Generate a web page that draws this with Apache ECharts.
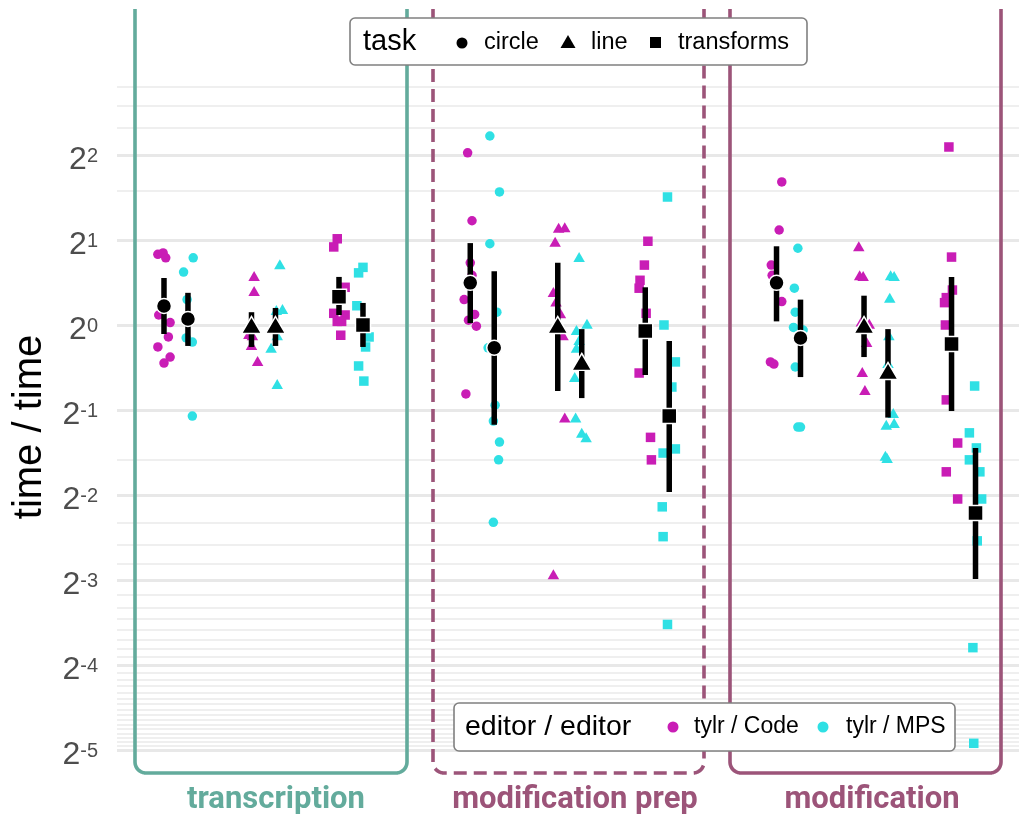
<!DOCTYPE html>
<html>
<head>
<meta charset="utf-8">
<script src="https://cdn.jsdelivr.net/npm/echarts@6/dist/echarts.min.js"></script>
<style>
  html, body { margin: 0; padding: 0; background: #ffffff; }
  #chart { width: 1019px; height: 816px; }
</style>
</head>
<body>
<div id="chart"></div>
<script>
// ---- categories ----
const phases = ['transcription', 'modification prep', 'modification'];
const tasks = ['circle', 'line', 'transforms'];
const editors = ['tylr / Code', 'tylr / MPS'];

// ---- per-participant time ratios (y) and horizontal jitter (x, task units) ----
// transcription
const trCircleCode = [1.78, 1.80, 1.73, 1.085, 1.02, 0.907, 0.836, 0.77, 0.733];
const trCircleCodeJit = [-0.07, -0.01, 0.02, -0.06, 0.07, 0.05, -0.07, 0.07, 0];
const trCircleMps = [1.73, 1.54, 1.23, 0.87, 0.90, 0.476];
const trCircleMpsJit = [0.06, -0.05, -0.01, 0.05, -0.02, 0.05];
const trLineCode = [1.49, 1.32, 0.92, 0.93, 0.85, 0.745];
const trLineCodeJit = [0.03, 0.03, 0.01, -0.03, 0, 0.07];
const trLineMps = [1.64, 1.14, 1.13, 0.92, 0.83, 0.618];
const trLineMpsJit = [0.05, 0.08, 0.01, 0.02, -0.05, 0.02];
const trTransformsCode = [2.02, 1.89, 1.36, 1.10, 1.085, 1.03, 1.03, 0.92];
const trTransformsCodeJit = [-0.02, -0.06, 0.07, -0.06, 0.07, -0.02, 0.03, 0.02];
const trTransformsMps = [1.60, 1.53, 1.17, 0.907, 0.836, 0.716, 0.633];
const trTransformsMpsJit = [0, -0.05, -0.07, 0.07, 0.03, -0.05, 0.01];

// modification prep
const mpCircleCode = [4.07, 2.34, 1.66, 1.50, 1.23, 1.09, 1.04, 0.99, 0.57];
const mpCircleCodeJit = [-0.03, 0.02, 0, 0.02, -0.07, 0.05, -0.02, 0.07, -0.05];
const mpCircleMps = [4.67, 2.96, 1.94, 1.11, 0.83, 0.52, 0.457, 0.385, 0.333, 0.2];
const mpCircleMpsJit = [-0.05, 0.06, -0.05, 0.03, -0.07, 0.01, -0.01, 0.06, 0.05, -0.01];
const mpLineCode = [2.21, 2.22, 1.97, 1.31, 1.21, 1.10, 0.92, 0.47, 0.131];
const mpLineCodeJit = [0.01, 0.08, -0.03, -0.05, -0.02, 0.03, 0.06, 0.08, -0.05];
const mpLineMps = [1.74, 1.01, 0.96, 0.885, 0.83, 0.654, 0.47, 0.415, 0.40];
const mpLineMpsJit = [-0.03, 0.06, -0.06, -0.03, -0.06, -0.08, -0.07, 0, 0.05];
const mpTransformsCode = [1.98, 1.63, 1.44, 1.35, 1.10, 0.676, 0.40, 0.333];
const mpTransformsCodeJit = [0.03, -0.01, -0.06, -0.07, 0.01, -0.07, 0.06, 0.07];
const mpTransformsMps = [2.84, 1.0, 0.74, 0.603, 0.352, 0.364, 0.227, 0.178, 0.087];
const mpTransformsMpsJit = [-0.02, -0.06, 0.07, 0.03, -0.07, 0.07, -0.08, -0.07, -0.02];

// modification
const mdCircleCode = [3.21, 2.17, 1.63, 1.50, 1.21, 0.74, 0.727];
const mdCircleCodeJit = [0.06, 0.03, -0.06, -0.05, 0.06, -0.07, -0.03];
const mdCircleMps = [1.87, 1.35, 1.11, 0.98, 0.96, 0.71, 0.435, 0.435];
const mdCircleMpsJit = [-0.03, -0.07, -0.06, -0.08, 0.03, -0.06, -0.03, 0];
const mdLineCode = [1.90, 1.50, 1.49, 1.03, 1.01, 0.87, 0.681, 0.589];
const mdLineCodeJit = [-0.06, -0.05, -0.01, -0.03, 0.06, 0.03, -0.02, 0.01];
const mdLineMps = [1.50, 1.49, 1.25, 0.92, 0.733, 0.488, 0.443, 0.45, 0.344, 0.338];
const mdLineMpsJit = [0.03, 0.07, 0.02, 0.01, 0, 0.06, -0.02, 0.07, -0.03, -0.01];
const mdTransformsCode = [4.27, 1.74, 1.33, 1.25, 1.20, 1.0, 0.543, 0.382, 0.302, 0.242];
const mdTransformsCodeJit = [-0.03, 0, 0.01, -0.06, -0.08, -0.07, -0.06, 0.07, -0.06, 0.07];
const mdTransformsMps = [0.608, 0.415, 0.367, 0.333, 0.302, 0.242, 0.172, 0.072, 0.033];
const mdTransformsMpsJit = [-0.01, -0.07, 0.01, -0.07, 0.05, 0.07, 0.02, -0.03, -0.02];

// ---- summary: mean and interval, order = circle/Code, circle/MPS, line/Code, line/MPS, transforms/Code, transforms/MPS ----
const meanTranscription = [1.168, 1.05, 1.0, 1.0, 1.26, 1.0];
const lowTranscription  = [0.929, 0.843, 0.836, 0.843, 1.085, 0.836];
const highTranscription = [1.467, 1.30, 1.11, 1.149, 1.48, 1.197];
const meanModPrep = [1.41, 0.83, 1.0, 0.74, 0.952, 0.476];
const lowModPrep  = [1.016, 0.443, 0.584, 0.551, 0.665, 0.256];
const highModPrep = [1.95, 1.55, 1.66, 0.967, 1.36, 0.878];
const meanMod = [1.41, 0.90, 1.0, 0.687, 0.856, 0.216];
const lowMod  = [1.03, 0.654, 0.77, 0.47, 0.496, 0.126];
const highMod = [1.90, 1.23, 1.27, 0.967, 1.48, 0.367];

// ---- y gridlines: powers of two (major), n and 1/n (minor) ----
const gridMajor = [1/32, 1/16, 1/8, 1/4, 1/2, 1, 2, 4];
const gridMinorWhole = [3, 5, 6, 7];
const gridMinorDenominators = [3, 5, 6, 7, 9, 10, 11, 12, 13, 14, 15, 17, 18, 19, 20,
  21, 22, 23, 24, 25, 26, 27, 28, 29, 30, 31];

// ---- style ----
const editorColors = ['#c91db5', '#2fe0e4'];
const taskSymbols = ['circle', 'triangle', 'rect'];
const pointSizes = [9.5, [11.5, 10], 9.5];
const meanSizes = [15, [20, 17], 15];
const teal = '#63ab9c';
const plum = '#9c5479';
const FONT = '"Liberation Sans", Arial, sans-serif';

// layout of the x scale: task slots within a phase, phases side by side
const PHASE_STEP = 3.5;
const DODGE = 0.137;
function slotX(phase, task, editor) {
  return phase * PHASE_STEP + task + (editor === 0 ? -DODGE : DODGE);
}

const points = [
  [[trCircleCode, trCircleCodeJit], [trCircleMps, trCircleMpsJit],
   [trLineCode, trLineCodeJit], [trLineMps, trLineMpsJit],
   [trTransformsCode, trTransformsCodeJit], [trTransformsMps, trTransformsMpsJit]],
  [[mpCircleCode, mpCircleCodeJit], [mpCircleMps, mpCircleMpsJit],
   [mpLineCode, mpLineCodeJit], [mpLineMps, mpLineMpsJit],
   [mpTransformsCode, mpTransformsCodeJit], [mpTransformsMps, mpTransformsMpsJit]],
  [[mdCircleCode, mdCircleCodeJit], [mdCircleMps, mdCircleMpsJit],
   [mdLineCode, mdLineCodeJit], [mdLineMps, mdLineMpsJit],
   [mdTransformsCode, mdTransformsCodeJit], [mdTransformsMps, mdTransformsMpsJit]]
];
const summary = [
  [meanTranscription, lowTranscription, highTranscription],
  [meanModPrep, lowModPrep, highModPrep],
  [meanMod, lowMod, highMod]
];

const series = [];

// gridlines drawn on the value scale (full precision so small reciprocals stay put)
const gridLines = [];
gridMajor.forEach(v => gridLines.push({ yAxis: v, lineStyle: { color: '#e8e8e8', width: 3, type: 'solid' } }));
gridMinorWhole.forEach(v => gridLines.push({ yAxis: v, lineStyle: { color: '#eaeaea', width: 1.6, type: 'solid' } }));
gridMinorDenominators.forEach(n => gridLines.push({ yAxis: 1 / n, lineStyle: { color: '#eaeaea', width: 1.6, type: 'solid' } }));
series.push({
  type: 'line', data: [], z: 1, silent: true,
  markLine: { silent: true, z: 1, precision: 12, symbol: ['none', 'none'], label: { show: false },
    animation: false, data: gridLines }
});

// individual observations
for (let t = 0; t < 3; t++) {
  for (let e = 0; e < 2; e++) {
    const data = [];
    for (let p = 0; p < 3; p++) {
      const [vals, jit] = points[p][t * 2 + e];
      vals.forEach((v, i) => data.push([slotX(p, t, e) + jit[i], v]));
    }
    series.push({
      type: 'scatter', name: tasks[t] + ' ' + editors[e], data,
      symbol: taskSymbols[t], symbolSize: pointSizes[t], z: 3,
      itemStyle: { color: editorColors[e], opacity: 1 }
    });
  }
}

// intervals
const intervals = [];
for (let p = 0; p < 3; p++) {
  for (let k = 0; k < 6; k++) {
    const t = Math.floor(k / 2), e = k % 2;
    intervals.push([slotX(p, t, e), summary[p][1][k], summary[p][2][k]]);
  }
}
series.push({
  type: 'custom', data: intervals, z: 4,
  encode: { x: 0, y: [1, 2] },
  renderItem(params, api) {
    const a = api.coord([api.value(0), api.value(1)]);
    const b = api.coord([api.value(0), api.value(2)]);
    return { type: 'line', shape: { x1: a[0], y1: a[1], x2: b[0], y2: b[1] },
      style: { stroke: '#000000', lineWidth: 5.5 } };
  }
});

// means
for (let t = 0; t < 3; t++) {
  const data = [];
  for (let p = 0; p < 3; p++) {
    for (let e = 0; e < 2; e++) data.push([slotX(p, t, e), summary[p][0][t * 2 + e]]);
  }
  series.push({
    type: 'scatter', name: 'mean ' + tasks[t], data,
    symbol: taskSymbols[t], symbolSize: meanSizes[t], z: 5,
    itemStyle: { color: '#000000', borderColor: '#ffffff', borderWidth: 1.5, opacity: 1 }
  });
}

// panel frames: open at the top, rounded lower corners
function framePoints(x0, x1, yTop, yBot, r) {
  const pts = [[x0, yTop], [x0, yBot - r]];
  const steps = 10;
  for (let i = 1; i <= steps; i++) {
    const a = Math.PI - (Math.PI / 2) * (i / steps);
    pts.push([x0 + r + r * Math.cos(a), yBot - r + r * Math.sin(a)]);
  }
  pts.push([x1 - r, yBot]);
  for (let i = 1; i <= steps; i++) {
    const a = Math.PI / 2 - (Math.PI / 2) * (i / steps);
    pts.push([x1 - r + r * Math.cos(a), yBot - r + r * Math.sin(a)]);
  }
  pts.push([x1, yTop]);
  return pts;
}
const frames = [
  { x0: 135, x1: 407, color: teal, dash: null, cx: 276 },
  { x0: 433, x1: 704, color: plum, dash: [13, 7], cx: 575 },
  { x0: 730, x1: 1001, color: plum, dash: null, cx: 872 }
];
const graphics = [];
frames.forEach((f, i) => {
  const style = { fill: null, stroke: f.color, lineWidth: 3.6, lineJoin: 'round' };
  if (f.dash) style.lineDash = f.dash;
  graphics.push({
    type: 'polyline', z: 10, silent: true,
    shape: { points: framePoints(f.x0, f.x1, 9, 773, 11) },
    style
  });
  graphics.push({
    type: 'text', z: 10, x: f.cx, y: 800, silent: true,
    style: { text: phases[i], fill: f.color, fontSize: 31, fontWeight: 'bold',
      fontFamily: 'Roboto, "Noto Sans", sans-serif', align: 'center', verticalAlign: 'middle' }
  });
});

// y axis title
graphics.push({
  type: 'text', z: 10, x: 30, y: 427, rotation: Math.PI / 2, silent: true,
  style: { text: 'time / time', fill: '#000000', fontSize: 40, fontFamily: FONT,
    align: 'center', verticalAlign: 'middle' }
});

// task legend
graphics.push({ type: 'rect', z: 20, shape: { x: 350, y: 18, width: 457, height: 47, r: 5 },
  style: { fill: '#ffffff', stroke: '#808080', lineWidth: 1.6 } });
graphics.push({ type: 'text', z: 21, x: 363, y: 42,
  style: { text: 'task', fill: '#000', fontSize: 29, fontFamily: FONT, align: 'left', verticalAlign: 'middle' } });
graphics.push({ type: 'circle', z: 21, shape: { cx: 462, cy: 43, r: 5.5 }, style: { fill: '#000' } });
graphics.push({ type: 'text', z: 21, x: 484, y: 43,
  style: { text: tasks[0], fill: '#000', fontSize: 23.5, fontFamily: FONT, align: 'left', verticalAlign: 'middle' } });
graphics.push({ type: 'polygon', z: 21, shape: { points: [[568, 35], [575.5, 48], [560.5, 48]] }, style: { fill: '#000' } });
graphics.push({ type: 'text', z: 21, x: 591, y: 43,
  style: { text: tasks[1], fill: '#000', fontSize: 23.5, fontFamily: FONT, align: 'left', verticalAlign: 'middle' } });
graphics.push({ type: 'rect', z: 21, shape: { x: 650, y: 37, width: 11, height: 11 }, style: { fill: '#000' } });
graphics.push({ type: 'text', z: 21, x: 678, y: 43,
  style: { text: tasks[2], fill: '#000', fontSize: 23.5, fontFamily: FONT, align: 'left', verticalAlign: 'middle' } });

// editor legend
graphics.push({ type: 'rect', z: 20, shape: { x: 454, y: 703, width: 501, height: 48, r: 5 },
  style: { fill: '#ffffff', stroke: '#808080', lineWidth: 1.6 } });
graphics.push({ type: 'text', z: 21, x: 465, y: 727,
  style: { text: 'editor / editor', fill: '#000', fontSize: 28.5, fontFamily: FONT, align: 'left', verticalAlign: 'middle' } });
graphics.push({ type: 'circle', z: 21, shape: { cx: 673, cy: 727, r: 5.5 }, style: { fill: editorColors[0] } });
graphics.push({ type: 'text', z: 21, x: 694, y: 727,
  style: { text: editors[0], fill: '#000', fontSize: 23, fontFamily: FONT, align: 'left', verticalAlign: 'middle' } });
graphics.push({ type: 'circle', z: 21, shape: { cx: 823, cy: 727, r: 5.5 }, style: { fill: editorColors[1] } });
graphics.push({ type: 'text', z: 21, x: 846, y: 727,
  style: { text: editors[1], fill: '#000', fontSize: 23, fontFamily: FONT, align: 'left', verticalAlign: 'middle' } });

const chart = echarts.init(document.getElementById('chart'), null, { renderer: 'canvas' });
chart.setOption({
  animation: false,
  backgroundColor: '#ffffff',
  textStyle: { fontFamily: FONT },
  grid: { left: 117, right: 0, top: 70, bottom: 66, containLabel: false },
  xAxis: { type: 'value', min: -0.674, max: 9.634, show: false },
  yAxis: {
    type: 'log', logBase: 2, min: 1 / 32, max: 8, splitNumber: 8,
    axisLine: { show: false }, axisTick: { show: false }, splitLine: { show: false },
    minorTick: { show: false }, minorSplitLine: { show: false },
    axisLabel: {
      margin: 19,
      padding: [12, 0, 0, 0],
      formatter(v) {
        const ex = Math.round(Math.log2(v));
        if (ex > 2) return '';
        return '{b|2}{s|' + ex + '}';
      },
      rich: {
        b: { fontSize: 32, color: '#4d4d4d', fontFamily: FONT, lineHeight: 30, verticalAlign: 'bottom' },
        s: { fontSize: 20, color: '#4d4d4d', fontFamily: FONT, lineHeight: 8, verticalAlign: 'top' }
      }
    }
  },
  series,
  graphic: graphics
});
</script>
</body>
</html>
